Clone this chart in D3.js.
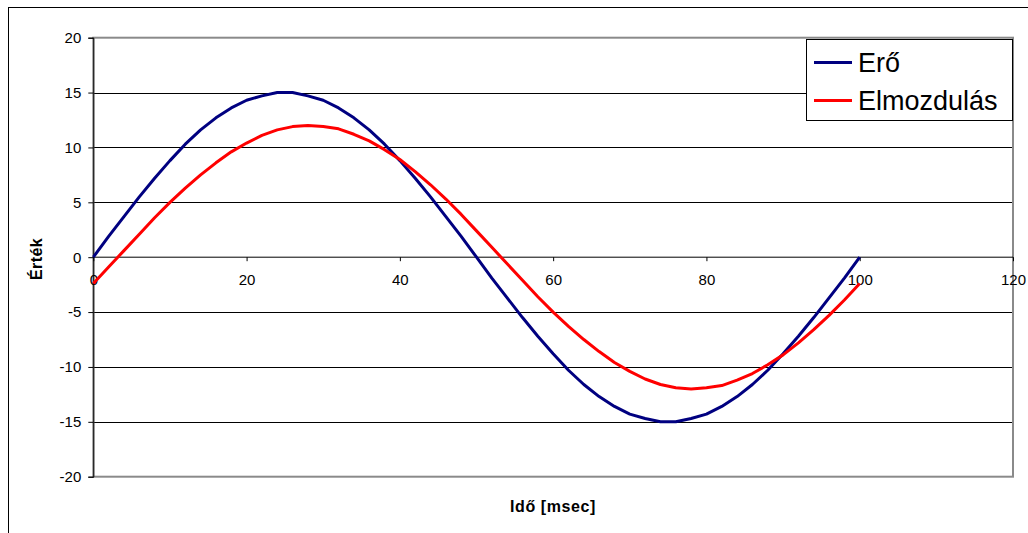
<!DOCTYPE html>
<html><head><meta charset="utf-8">
<script src="https://cdn.jsdelivr.net/npm/d3@7"></script>
<style>body{margin:0;background:#fff}svg{display:block}text{font-family:"Liberation Sans",Arial,sans-serif}</style>
</head><body>
<svg id="c" width="1028" height="533"></svg>
<script>
const times = [0,2,4,6,8,10,12,14,16,18,20,22,24,26,28,30,32,34,36,38,40,42,44,46,48,50,52,54,56,58,60,62,64,66,68,70,72,74,76,78,80,82,84,86,88,90,92,94,96,98,100];
const ero = [0,1.9,3.7,5.5,7.2,8.8,10.3,11.6,12.7,13.6,14.3,14.7,15.0,15.0,14.7,14.3,13.6,12.7,11.6,10.3,8.8,7.2,5.5,3.7,1.9,0,-1.9,-3.7,-5.5,-7.2,-8.8,-10.3,-11.6,-12.7,-13.6,-14.3,-14.7,-15.0,-15.0,-14.7,-14.3,-13.6,-12.7,-11.6,-10.3,-8.8,-7.2,-5.5,-3.7,-1.9,0];
const elmozdulas = [-2.4,-0.9,0.6,2.1,3.6,5.0,6.3,7.5,8.6,9.6,10.4,11.1,11.6,11.9,12.0,11.9,11.7,11.2,10.6,9.8,8.9,7.8,6.6,5.3,3.9,2.4,0.9,-0.6,-2.1,-3.6,-5.0,-6.3,-7.5,-8.6,-9.6,-10.4,-11.1,-11.6,-11.9,-12.0,-11.9,-11.7,-11.2,-10.6,-9.8,-8.9,-7.8,-6.6,-5.3,-3.9,-2.4];
const xTicks = [0,20,40,60,80,100,120];
const yTicks = [-20,-15,-10,-5,0,5,10,15,20];
const seriesNames = ["Erő","Elmozdulás"];
const seriesColors = ["#000080","#ff0000"];

const svg = d3.select("#c");
const L = 93.3, R = 1013, T = 37.7, B = 476.7;
const x = d3.scaleLinear().domain([0,120]).range([L,R]);
const y = d3.scaleLinear().domain([-20,20]).range([B,T]);

// outer chart border
svg.append("rect").attr("x",8.5).attr("y",7.5).attr("width",1040).attr("height",540)
  .attr("fill","#fff").attr("stroke","#000").attr("stroke-width",1);

// gridlines
svg.append("g").selectAll("line").data(yTicks.filter(v=>v!==0 && Math.abs(v)!==20)).join("line")
  .attr("x1",L).attr("x2",R).attr("y1",d=>Math.round(y(d))+0.5).attr("y2",d=>Math.round(y(d))+0.5)
  .attr("stroke","#000").attr("stroke-width",1);

// plot border (gray)
svg.append("rect").attr("x",L).attr("y",T).attr("width",R-L).attr("height",B-T)
  .attr("fill","none").attr("stroke","#8a8a8a").attr("stroke-width",2);

// y axis
const yAxis = d3.axisLeft(y).tickValues(yTicks).tickFormat(d=>String(d)).tickSize(5).tickPadding(7);
const gy = svg.append("g").attr("transform",`translate(${L},0)`).call(yAxis);
gy.select(".domain").attr("stroke","#000");
gy.selectAll(".tick line").attr("stroke","#000");
gy.selectAll("text").attr("font-size",15).attr("fill","#000").attr("font-family","Liberation Sans, Arial");

// x axis at y=0
const xAxis = d3.axisBottom(x).tickValues(xTicks).tickFormat(d=>String(d)).tickSize(4).tickPadding(13);
const gx = svg.append("g").attr("transform",`translate(0,${y(0)})`).call(xAxis);
gx.select(".domain").attr("stroke","#000").attr("d",`M${L},0H${R}`);
gx.selectAll(".tick line").attr("stroke","#000");
gx.selectAll("text").attr("font-size",15).attr("fill","#000").attr("font-family","Liberation Sans, Arial");

// lines
const line = d3.line().x((d,i)=>x(times[i])).y(d=>y(d));
[ero, elmozdulas].forEach((s,k)=>{
  svg.append("path").datum(s).attr("d",line).attr("fill","none")
    .attr("stroke",seriesColors[k]).attr("stroke-width",3).attr("stroke-linejoin","round");
});

// axis titles
svg.append("text").attr("x",553).attr("y",512).attr("text-anchor","middle")
  .attr("font-size",16).attr("letter-spacing",0.6).attr("font-weight","bold").text("Idő [msec]");
svg.append("text").attr("transform","translate(42,259) rotate(-90)").attr("text-anchor","middle")
  .attr("font-size",16).attr("letter-spacing",0.4).attr("font-weight","bold").text("Érték");

// legend
const lg = svg.append("g");
lg.append("rect").attr("x",806.5).attr("y",39.5).attr("width",206).attr("height",81)
  .attr("fill","#fff").attr("stroke","#000").attr("stroke-width",1);
const ly = [62.5,100.5];
seriesNames.forEach((n,k)=>{
  lg.append("line").attr("x1",814).attr("x2",852).attr("y1",ly[k]).attr("y2",ly[k])
    .attr("stroke",seriesColors[k]).attr("stroke-width",3);
  lg.append("text").attr("x",858).attr("y",ly[k]+9.5).attr("font-size",27).attr("fill","#000").text(n);
});
</script>
</body></html>
